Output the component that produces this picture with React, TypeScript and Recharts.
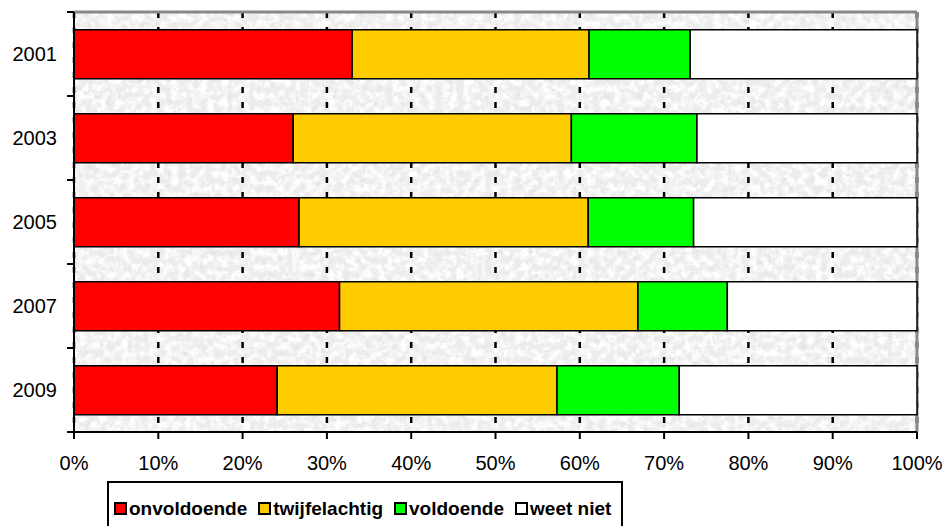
import React from 'react';
import { BarChart, Bar, XAxis, YAxis, CartesianGrid, Legend } from 'recharts';

const years = ['2001', '2003', '2005', '2007', '2009'];
const onvoldoende = [33.0, 26.0, 26.7, 31.5, 24.1];
const twijfelachtig = [28.1, 33.0, 34.3, 35.4, 33.2];
const voldoende = [12.0, 14.9, 12.5, 10.6, 14.5];
const weetNiet = [26.9, 26.1, 26.5, 22.5, 28.2];
const xTicks = [0, 10, 20, 30, 40, 50, 60, 70, 80, 90, 100];

const series = [
  { key: 'onvoldoende', name: 'onvoldoende', color: '#FF0000' },
  { key: 'twijfelachtig', name: 'twijfelachtig', color: '#FFCC00' },
  { key: 'voldoende', name: 'voldoende', color: '#00FF00' },
  { key: 'weetNiet', name: 'weet niet', color: '#FFFFFF' },
];

const data = years.map((y, i) => ({
  year: y,
  onvoldoende: onvoldoende[i],
  twijfelachtig: twijfelachtig[i],
  voldoende: voldoende[i],
  weetNiet: weetNiet[i],
}));

const W = 947;
const H = 526;
const TOP = 12;
const BOTTOM_TOTAL = 94;
const PLOT_H = H - TOP - BOTTOM_TOTAL;
const BAND = PLOT_H / years.length;
const FONT = '"Liberation Sans", Arial, sans-serif';

const YTick = (props: any) => {
  const { x, y, payload, index } = props;
  return (
    <g>
      <text x={x - 17} y={y} dy={7} textAnchor="end" fontSize={20} fontFamily={FONT} fill="#000">
        {payload.value}
      </text>
      <line x1={x - 7} x2={x} y1={y - BAND / 2} y2={y - BAND / 2} stroke="#000" strokeWidth={2} />
      {index === years.length - 1 && (
        <line x1={x - 7} x2={x} y1={y + BAND / 2} y2={y + BAND / 2} stroke="#000" strokeWidth={2} />
      )}
    </g>
  );
};

const LegendBox = () => (
  <div
    style={{
      border: '2px solid #000',
      height: 60,
      boxSizing: 'border-box',
      paddingTop: 16,
      paddingLeft: 5,
      display: 'flex',
      alignItems: 'flex-start',
      fontFamily: FONT,
      fontWeight: 'bold',
      fontSize: 19,
      lineHeight: '19px',
      background: '#fff',
      whiteSpace: 'nowrap',
    }}
  >
    {series.map((s) => (
      <span key={s.key} style={{ display: 'inline-flex', alignItems: 'center', marginRight: 11, height: 19 }}>
        <span
          style={{
            display: 'inline-block',
            width: 13,
            height: 13,
            boxSizing: 'border-box',
            border: '2px solid #000',
            background: s.color,
            marginRight: 2,
          }}
        />
        <span>{s.name}</span>
      </span>
    ))}
  </div>
);

export default function App() {
  return (
    <div style={{ position: 'absolute', left: 0, top: 0, width: W, height: H, background: '#fff', overflow: 'hidden' }}>
      <BarChart
        width={W}
        height={H}
        data={data}
        layout="vertical"
        margin={{ top: TOP, right: 30, bottom: 0, left: 0 }}
        barCategoryGap="21%"
      >
        <defs>
          <filter id="noiseDark" x="0" y="0" width="100%" height="100%">
            <feTurbulence type="fractalNoise" baseFrequency="0.18" numOctaves="3" seed="4" result="n" />
            <feColorMatrix
              in="n"
              type="matrix"
              values="0 0 0 0 0.75  0 0 0 0 0.75  0 0 0 0 0.75  3 0 0 0 -1.75"
            />
          </filter>
          <filter id="noiseLight" x="0" y="0" width="100%" height="100%">
            <feTurbulence type="fractalNoise" baseFrequency="0.14" numOctaves="3" seed="11" result="n" />
            <feColorMatrix
              in="n"
              type="matrix"
              values="0 0 0 0 1  0 0 0 0 1  0 0 0 0 1  3 0 0 0 -1.1"
            />
          </filter>
          <pattern id="granite" patternUnits="userSpaceOnUse" x="0" y="0" width={W} height={H}>
            <rect x="0" y="0" width={W} height={H} fill="#ececec" />
            <rect x="0" y="0" width={W} height={H} filter="url(#noiseLight)" />
            <rect x="0" y="0" width={W} height={H} filter="url(#noiseDark)" />
          </pattern>
        </defs>
        <CartesianGrid
          horizontal={false}
          vertical={true}
          fill="url(#granite)"
          stroke="#000"
          strokeWidth={2.5}
          strokeDasharray="6 9"
        />
        <CartesianGrid
          horizontal={true}
          vertical={true}
          horizontalCoordinatesGenerator={({ offset }: any) => [offset.top]}
          verticalCoordinatesGenerator={({ offset }: any) => [offset.left + offset.width]}
          stroke="#888"
          strokeWidth={3}
        />
        <XAxis
          type="number"
          domain={[0, 100]}
          ticks={xTicks}
          interval={0}
          tickFormatter={(v: number) => `${v}%`}
          height={BOTTOM_TOTAL}
          tickSize={7}
          tickMargin={17}
          axisLine={{ stroke: '#000', strokeWidth: 2 }}
          tickLine={{ stroke: '#000', strokeWidth: 2 }}
          tick={{ fill: '#000', fontSize: 20, fontFamily: FONT }}
        />
        <YAxis
          type="category"
          dataKey="year"
          width={74}
          tickSize={0}
          tickMargin={0}
          tickLine={false}
          axisLine={{ stroke: '#000', strokeWidth: 2 }}
          tick={<YTick />}
          interval={0}
        />
        {series.map((s) => (
          <Bar
            key={s.key}
            dataKey={s.key}
            name={s.name}
            stackId="a"
            fill={s.color}
            stroke="#000"
            strokeWidth={1.5}
            isAnimationActive={false}
          />
        ))}
        <Legend
          layout="horizontal"
          verticalAlign="middle"
          align="center"
          content={() => <LegendBox />}
          wrapperStyle={{ position: 'absolute', left: 107, top: 481, width: 516, height: 60 }}
        />
      </BarChart>
    </div>
  );
}
